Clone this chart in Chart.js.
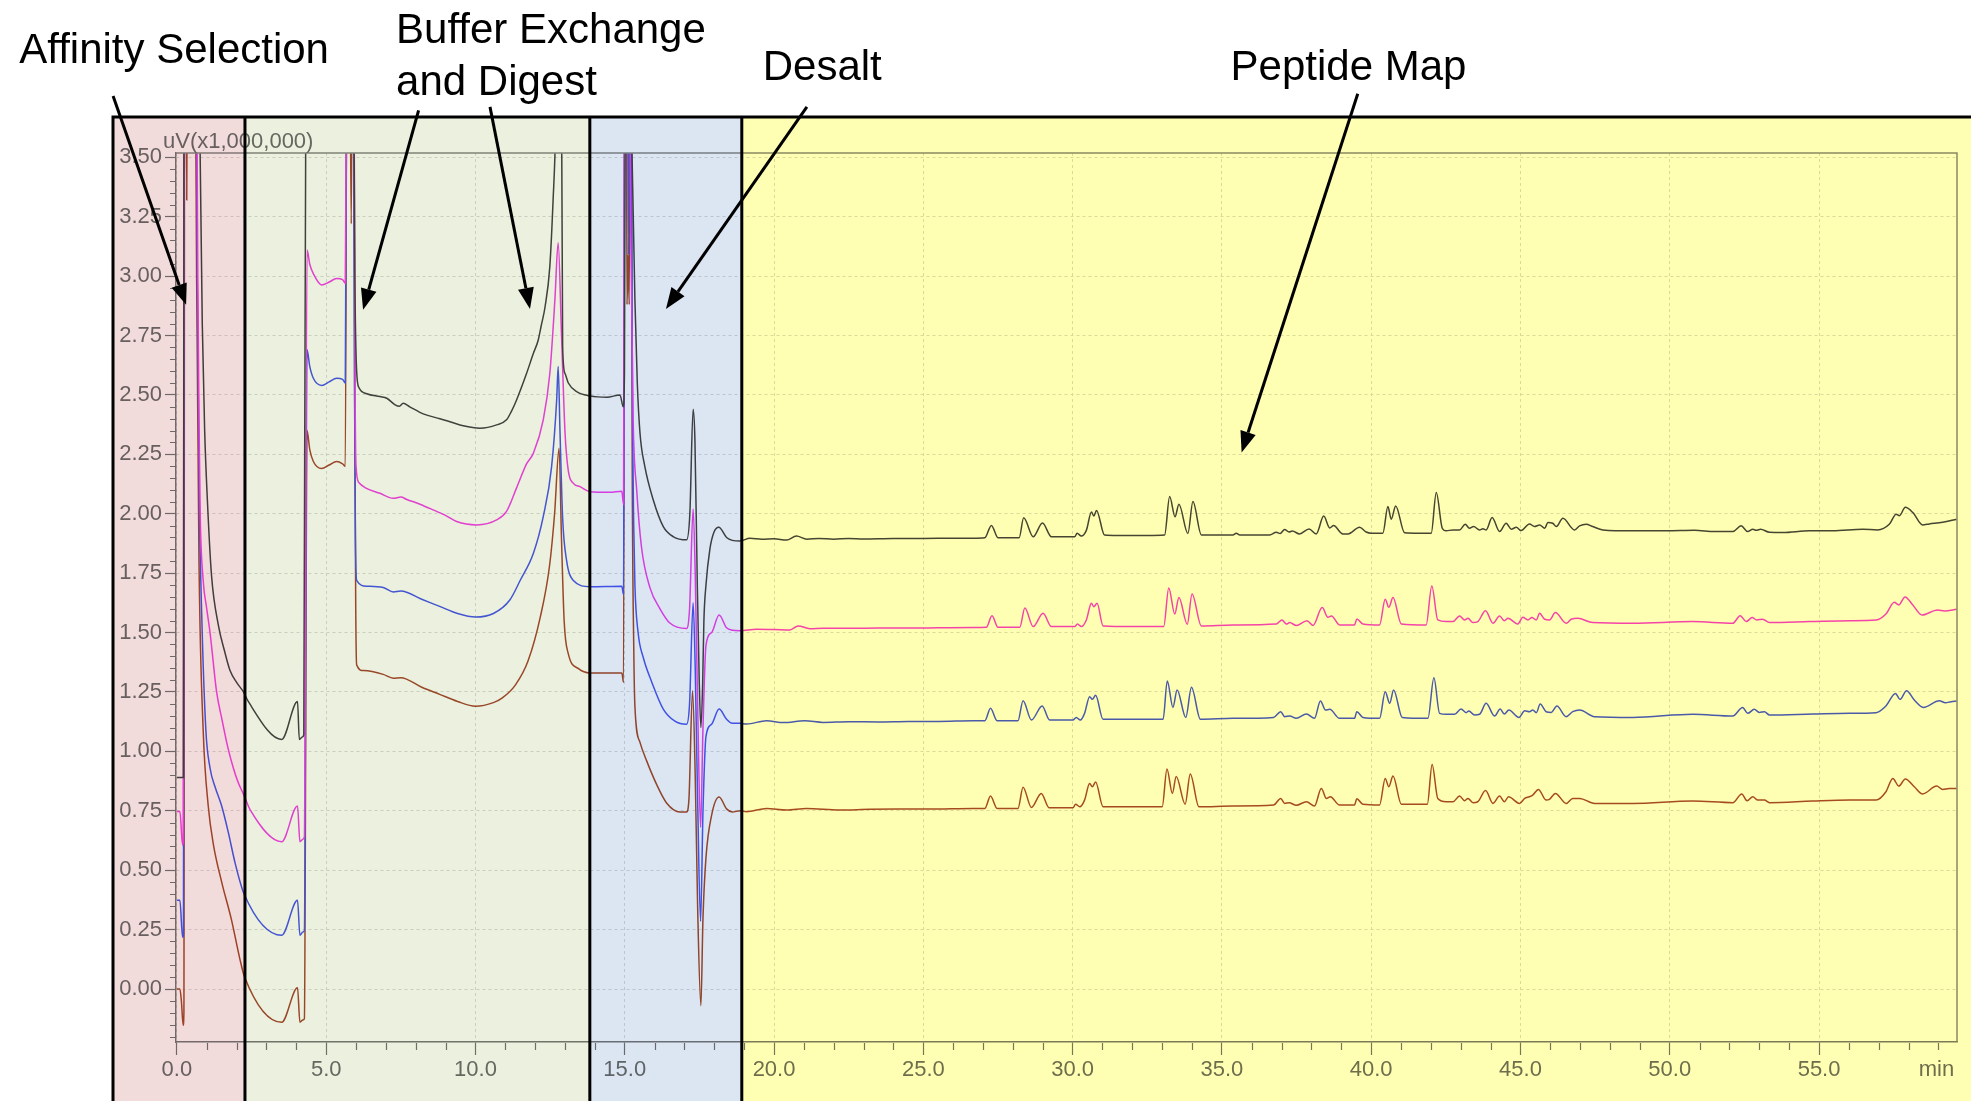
<!DOCTYPE html>
<html><head><meta charset="utf-8">
<script src="https://cdn.jsdelivr.net/npm/chart.js@4.4.1/dist/chart.umd.min.js"></script>
<style>html,body{margin:0;padding:0;background:#fff;}#wrap{width:1971px;height:1101px;position:relative;}</style>
</head><body><div id="wrap"><canvas id="c"></canvas></div>
<script>
// ---- axis ticks ----
const xTicks = [0,5,10,15,20,25,30,35,40,45,50,55];
const yTicks = [0,0.25,0.5,0.75,1,1.25,1.5,1.75,2,2.25,2.5,2.75,3,3.25,3.5];
const xUnitLabel = 'min';
const yUnitLabel = 'uV(x1,000,000)';

// ---- chromatogram traces: [time (min), signal (x1,000,000 uV)] ----
const traceK = [
[0,0.89],[0.19,0.89],[0.22,0.89],[0.24,4.2],[0.5,4.3],[0.74,4.2],[0.78,3.5],[0.85,2.8],[0.93,2.35],[1.02,2.06],[1.16,1.74],[1.39,1.53],[1.6,1.42],[1.78,1.34],[2.0,1.29],[2.23,1.25],[2.39,1.21],[3.51,1.05],[4.04,1.21],[4.1,1.05],[4.2,1.06],[4.25,1.07],[4.33,4.2],[5.2,4.3],[5.9,4.2],[5.96,3.0],[6.02,2.6],[6.1,2.53],[6.36,2.505],[6.8,2.493],[7.03,2.486],[7.31,2.458],[7.45,2.452],[7.58,2.465],[7.8,2.45],[8.25,2.42],[8.81,2.40],[9.2,2.385],[9.59,2.37],[10.15,2.36],[10.71,2.374],[11.04,2.395],[11.2,2.43],[11.38,2.48],[11.71,2.59],[11.94,2.675],[12.10,2.73],[12.2,2.79],[12.33,2.87],[12.49,3.04],[12.6,3.32],[12.68,3.6],[12.76,4.3],[12.86,4.3],[12.92,2.7],[13.0,2.59],[13.11,2.55],[13.39,2.514],[13.83,2.496],[14.4,2.49],[14.84,2.50],[14.95,2.45],[14.99,2.6],[15.03,4.2],[15.15,4.3],[15.23,3.6],[15.34,2.90],[15.42,2.55],[15.51,2.34],[15.67,2.20],[15.95,2.06],[16.29,1.946],[16.62,1.904],[17.07,1.89],[17.18,2.0],[17.29,2.44],[17.35,2.31],[17.43,1.70],[17.49,1.32],[17.55,1.10],[17.61,1.29],[17.65,1.548],[17.72,1.70],[17.85,1.85],[17.98,1.92],[18.15,1.943],[18.41,1.90],[18.6,1.888],
[18.86,1.885],[19.19,1.897],[19.6,1.893],[20.0,1.895],[20.42,1.889],[20.75,1.906],[21.1,1.893],[21.5,1.896],[22,1.893],[22.5,1.896],[23,1.894],[24,1.896],[25,1.896],[26,1.897],[26.67,1.897],[27.06,1.899],[27.28,1.951],[27.50,1.899],[28.21,1.899],[28.36,1.983],[28.68,1.903],[28.99,1.961],[29.29,1.903],[30.07,1.903],[30.15,1.918],[30.29,1.906],[30.46,1.93],[30.63,2.007],[30.71,1.99],[30.80,2.014],[31.07,1.91],[31.5,1.908],[32.5,1.908],[33.08,1.91],[33.25,2.072],[33.43,1.987],[33.56,2.04],[33.86,1.917],[34.03,2.051],[34.31,1.911],[34.5,1.911],[35.37,1.911],[35.48,1.918],[35.6,1.911],[36.6,1.911],[36.82,1.922],[36.95,1.917],[37.10,1.934],[37.25,1.923],[37.36,1.927],[37.60,1.915],[37.92,1.936],[38.16,1.915],[38.41,1.99],[38.61,1.94],[38.74,1.95],[39.05,1.915],[39.22,1.915],[39.61,1.943],[39.83,1.923],[40.0,1.918],[40.39,1.918],[40.56,2.030],[40.67,1.977],[40.82,2.033],[41.12,1.920],[41.62,1.918],[42.01,1.918],[42.18,2.089],[42.38,1.939],[42.51,1.928],[42.74,1.932],[42.96,1.932],[43.15,1.956],[43.29,1.939],[43.43,1.946],[43.63,1.932],[43.74,1.937],[43.85,1.932],[44.05,1.984],[44.30,1.925],[44.52,1.960],[44.69,1.935],[44.86,1.943],[45.02,1.929],[45.30,1.957],[45.47,1.946],[45.64,1.953],[45.81,1.939],[45.92,1.963],[46.08,1.96],[46.20,1.946],[46.42,1.981],[46.81,1.932],[46.98,1.949],[47.20,1.956],[47.42,1.946],[47.76,1.932],[48.76,1.928],[49.88,1.928],[50.83,1.93],[51.5,1.925],[52.11,1.925],[52.39,1.949],[52.61,1.925],[52.78,1.935],[52.9,1.93],[53.04,1.935],[53.34,1.922],[53.78,1.921],[54.68,1.928],[55.46,1.928],[56.46,1.935],[56.96,1.932],[57.36,1.957],[57.58,1.998],[57.69,1.992],[57.89,2.027],[58.14,2.005],[58.47,1.953],[58.69,1.957],[59.14,1.964],[59.61,1.977]
];
const traceM = [
[0,0.747],[0.1,0.747],[0.19,0.606],[0.215,0.62],[0.24,4.2],[0.5,4.3],[0.64,4.2],[0.70,3.0],[0.74,2.4],[0.78,2.0],[0.88,1.72],[1.0,1.6],[1.11,1.50],[1.33,1.25],[1.5,1.14],[1.7,1.02],[1.89,0.93],[2.05,0.87],[2.23,0.82],[2.45,0.755],[3.51,0.62],[4.04,0.77],[4.12,0.62],[4.22,0.63],[4.27,0.64],[4.36,3.11],[4.45,3.05],[4.57,3.01],[4.85,2.963],[5.1,2.975],[5.35,2.99],[5.55,2.985],[5.64,2.97],[5.70,4.2],[5.85,4.3],[5.92,4.2],[5.97,2.5],[6.0,2.2],[6.1,2.13],[6.3,2.11],[6.8,2.086],[7.25,2.065],[7.5,2.07],[7.7,2.06],[8.14,2.04],[8.6,2.015],[9.04,1.99],[9.37,1.967],[10.04,1.953],[10.71,1.974],[11.04,2.01],[11.38,2.11],[11.71,2.21],[11.94,2.255],[12.27,2.395],[12.49,2.59],[12.66,2.90],[12.77,3.14],[12.88,2.76],[13.0,2.34],[13.11,2.18],[13.28,2.128],[13.5,2.114],[13.83,2.093],[14.5,2.09],[14.9,2.095],[14.96,2.04],[15.0,4.2],[15.15,4.3],[15.2,3.2],[15.28,2.40],[15.40,2.10],[15.56,1.86],[15.84,1.69],[16.18,1.60],[16.51,1.54],[17.07,1.517],[17.17,1.6],[17.29,2.02],[17.36,1.75],[17.44,1.2],[17.54,0.68],[17.62,1.1],[17.72,1.446],[17.91,1.50],[18.16,1.574],[18.41,1.52],[18.6,1.51],
[18.86,1.508],[19.41,1.514],[20.0,1.513],[20.53,1.511],[20.81,1.528],[21.2,1.516],[21.64,1.518],[22.5,1.518],[23.5,1.519],[24.5,1.519],[25.5,1.520],[26.67,1.521],[27.11,1.522],[27.30,1.571],[27.50,1.522],[28.23,1.522],[28.40,1.603],[28.68,1.525],[29.01,1.581],[29.29,1.525],[30.07,1.525],[30.16,1.536],[30.29,1.525],[30.46,1.553],[30.63,1.623],[30.71,1.609],[30.82,1.623],[31.02,1.528],[32,1.525],[33.05,1.525],[33.22,1.688],[33.42,1.578],[33.56,1.647],[33.84,1.535],[34.00,1.662],[34.31,1.528],[35.37,1.532],[36.82,1.536],[37.01,1.553],[37.16,1.536],[37.27,1.542],[37.49,1.530],[37.85,1.550],[38.05,1.530],[38.36,1.605],[38.55,1.564],[38.67,1.570],[38.94,1.532],[39.44,1.532],[39.52,1.557],[39.72,1.536],[40.28,1.532],[40.47,1.640],[40.59,1.606],[40.73,1.647],[41.01,1.536],[41.84,1.532],[42.03,1.696],[42.23,1.553],[42.51,1.546],[42.74,1.546],[42.96,1.570],[43.13,1.553],[43.24,1.560],[43.41,1.542],[43.57,1.546],[43.83,1.592],[44.08,1.539],[44.30,1.570],[44.46,1.550],[44.58,1.560],[44.91,1.536],[45.08,1.564],[45.25,1.553],[45.38,1.563],[45.53,1.553],[45.64,1.581],[45.81,1.556],[45.97,1.553],[46.17,1.584],[46.53,1.539],[46.70,1.556],[46.92,1.560],[47.42,1.542],[48.76,1.539],[50.77,1.546],[52.11,1.539],[52.36,1.571],[52.56,1.546],[52.76,1.563],[52.91,1.553],[53.11,1.556],[53.34,1.542],[54.68,1.546],[56.02,1.550],[56.91,1.553],[57.24,1.578],[57.52,1.627],[57.67,1.616],[57.88,1.650],[58.14,1.616],[58.45,1.574],[58.97,1.595],[59.20,1.591],[59.61,1.598]
];
const traceB = [
[0,0.373],[0.1,0.373],[0.19,0.218],[0.22,0.23],[0.25,4.2],[0.5,4.3],[0.62,4.2],[0.68,3.0],[0.75,2.06],[0.83,1.58],[0.97,1.09],[1.11,0.93],[1.28,0.85],[1.5,0.77],[1.72,0.66],[1.95,0.53],[2.25,0.40],[3.51,0.226],[4.04,0.373],[4.12,0.226],[4.22,0.24],[4.27,0.245],[4.36,2.69],[4.45,2.62],[4.57,2.57],[4.85,2.54],[5.1,2.555],[5.35,2.57],[5.55,2.565],[5.64,2.55],[5.70,4.2],[5.85,4.3],[5.90,4.2],[5.95,2.5],[5.98,1.9],[6.02,1.72],[6.36,1.695],[6.91,1.69],[7.25,1.671],[7.5,1.675],[8.2,1.64],[8.8,1.61],[9.4,1.58],[10.0,1.565],[10.6,1.58],[11.15,1.637],[11.5,1.72],[11.94,1.834],[12.27,1.988],[12.55,2.198],[12.72,2.48],[12.77,2.62],[12.83,2.35],[12.92,1.98],[13.05,1.805],[13.27,1.72],[13.83,1.693],[14.9,1.695],[14.96,1.66],[15.0,4.2],[15.09,4.2],[15.12,3.09],[15.15,4.2],[15.2,4.2],[15.26,2.4],[15.30,1.95],[15.34,1.70],[15.45,1.497],[15.62,1.395],[15.90,1.293],[16.29,1.178],[16.68,1.127],[17.07,1.114],[17.17,1.2],[17.29,1.625],[17.36,1.35],[17.44,0.8],[17.54,0.285],[17.62,0.75],[17.72,1.063],[17.91,1.114],[18.16,1.178],[18.41,1.135],[18.6,1.118],
[18.86,1.118],[19.08,1.115],[19.75,1.129],[20.31,1.121],[21.03,1.129],[21.64,1.122],[22.5,1.125],[23.5,1.124],[24.5,1.126],[25.5,1.126],[26.67,1.129],[27.06,1.129],[27.25,1.181],[27.47,1.129],[28.17,1.129],[28.34,1.213],[28.62,1.132],[28.98,1.191],[29.23,1.132],[30.01,1.132],[30.12,1.143],[30.26,1.132],[30.40,1.160],[30.57,1.230],[30.66,1.219],[30.77,1.236],[31.02,1.135],[32,1.135],[33.03,1.135],[33.17,1.296],[33.36,1.185],[33.50,1.258],[33.79,1.143],[33.98,1.270],[34.28,1.135],[35.37,1.139],[36.73,1.143],[36.97,1.167],[37.10,1.146],[37.27,1.149],[37.49,1.139],[37.83,1.157],[38.10,1.139],[38.30,1.212],[38.47,1.174],[38.61,1.177],[38.94,1.139],[39.44,1.139],[39.52,1.167],[39.72,1.143],[40.28,1.139],[40.47,1.251],[40.62,1.202],[40.75,1.258],[41.04,1.143],[41.90,1.139],[42.10,1.310],[42.29,1.160],[42.51,1.156],[42.79,1.156],[43.01,1.178],[43.18,1.163],[43.27,1.170],[43.46,1.153],[43.63,1.156],[43.85,1.202],[44.13,1.149],[44.32,1.178],[44.46,1.157],[44.61,1.174],[44.95,1.143],[45.14,1.171],[45.30,1.167],[45.41,1.174],[45.53,1.163],[45.66,1.199],[45.86,1.167],[46.03,1.164],[46.22,1.191],[46.53,1.146],[46.75,1.167],[46.98,1.174],[47.48,1.146],[48.76,1.143],[50.77,1.156],[52.11,1.149],[52.44,1.185],[52.61,1.160],[52.83,1.177],[53.00,1.164],[53.17,1.167],[53.34,1.153],[54.79,1.157],[56.02,1.160],[56.91,1.163],[57.24,1.191],[57.56,1.244],[57.71,1.219],[57.93,1.255],[58.19,1.216],[58.49,1.185],[59.03,1.213],[59.23,1.205],[59.42,1.209],[59.61,1.212]
];
const traceR = [
[0,0.0],[0.1,0.0],[0.15,-0.05],[0.21,-0.152],[0.235,-0.1],[0.26,4.2],[0.30,4.2],[0.33,3.32],[0.36,4.2],[0.5,4.3],[0.60,4.2],[0.66,3.0],[0.74,1.8],[0.88,1.09],[1.05,0.77],[1.22,0.61],[1.5,0.45],[1.83,0.29],[2.11,0.126],[2.26,0.053],[3.51,-0.14],[4.04,0.005],[4.12,-0.14],[4.22,-0.13],[4.27,-0.125],[4.36,2.35],[4.45,2.27],[4.57,2.22],[4.85,2.19],[5.1,2.205],[5.35,2.22],[5.55,2.21],[5.64,2.20],[5.70,4.2],[5.78,4.2],[5.84,3.22],[5.88,4.2],[5.92,4.0],[5.96,2.3],[5.99,1.6],[6.02,1.364],[6.25,1.34],[6.91,1.324],[7.25,1.308],[7.5,1.31],[8.2,1.27],[8.8,1.24],[9.4,1.21],[10.0,1.19],[10.6,1.205],[10.9,1.225],[11.34,1.28],[11.76,1.38],[12.18,1.57],[12.48,1.78],[12.65,2.0],[12.80,2.276],[12.88,1.9],[12.97,1.55],[13.11,1.41],[13.45,1.348],[13.83,1.33],[14.9,1.33],[14.96,1.29],[15.0,4.2],[15.05,4.2],[15.075,2.88],[15.11,3.09],[15.15,2.88],[15.18,4.2],[15.21,4.2],[15.25,2.2],[15.30,1.45],[15.34,1.19],[15.51,1.038],[15.73,0.961],[16.07,0.86],[16.40,0.783],[16.85,0.745],[17.07,0.745],[17.15,0.80],[17.27,1.255],[17.36,0.9],[17.44,0.35],[17.55,-0.07],[17.62,0.3],[17.72,0.553],[17.91,0.732],[18.16,0.808],[18.41,0.758],[18.6,0.745],
[18.86,0.750],[19.08,0.746],[19.75,0.760],[20.42,0.753],[21.09,0.760],[22.20,0.753],[23.2,0.756],[24.2,0.757],[25.2,0.757],[26.67,0.760],[27.06,0.760],[27.25,0.812],[27.47,0.760],[28.17,0.760],[28.34,0.849],[28.62,0.764],[28.95,0.823],[29.21,0.763],[30.01,0.763],[30.10,0.777],[30.24,0.767],[30.40,0.795],[30.57,0.865],[30.66,0.851],[30.77,0.871],[31.02,0.767],[32,0.767],[33.00,0.767],[33.16,0.926],[33.34,0.823],[33.47,0.894],[33.77,0.778],[33.94,0.905],[34.23,0.767],[35.37,0.770],[36.73,0.774],[36.97,0.802],[37.10,0.781],[37.25,0.784],[37.49,0.773],[37.83,0.788],[38.10,0.770],[38.33,0.844],[38.50,0.802],[38.63,0.809],[38.94,0.774],[39.44,0.774],[39.52,0.801],[39.72,0.777],[40.28,0.774],[40.47,0.886],[40.59,0.851],[40.73,0.896],[41.01,0.777],[41.88,0.777],[42.04,0.945],[42.23,0.802],[42.51,0.788],[42.74,0.788],[42.96,0.812],[43.13,0.792],[43.24,0.802],[43.41,0.784],[43.57,0.788],[43.83,0.835],[44.08,0.781],[44.30,0.812],[44.46,0.788],[44.60,0.809],[44.97,0.781],[45.14,0.802],[45.30,0.809],[45.41,0.816],[45.60,0.840],[45.86,0.795],[45.97,0.798],[46.17,0.823],[46.53,0.781],[46.75,0.802],[46.98,0.802],[47.48,0.781],[48.76,0.781],[50.77,0.791],[52.11,0.784],[52.41,0.821],[52.59,0.792],[52.78,0.809],[52.95,0.795],[53.17,0.795],[53.34,0.784],[54.79,0.791],[56.02,0.795],[56.91,0.795],[57.24,0.830],[57.47,0.886],[57.67,0.854],[57.89,0.884],[58.19,0.851],[58.47,0.821],[58.94,0.854],[59.14,0.840],[59.36,0.844],[59.61,0.844]
];
const seriesNames = ['Run 1','Run 2','Run 3','Run 4'];
const seriesColors = ['#454545','#f544ee','#4a5af0','#a64b2e'];

// ---- workflow stage bands (minutes) ----
const stageNames = ['Affinity Selection','Buffer Exchange and Digest','Desalt','Peptide Map'];
const stageEdges = [-2.14, 2.28, 13.83, 18.92, 61.5];
const stageColors = ['#F2DCDB','#EBF1DE','#DCE6F2','#FFFFB3'];
const stageTop = 3.67;

// ---- callout labels and arrows (data coordinates) ----
const calloutText = [
  {t:'Affinity Selection', x:-5.28, y:3.897},
  {t:'Buffer Exchange', x:7.34, y:3.981},
  {t:'and Digest', x:7.34, y:3.763},
  {t:'Desalt', x:19.62, y:3.826},
  {t:'Peptide Map', x:35.29, y:3.826}
];
const calloutArrows = [
  {x0:-2.137, y0:3.758, x1:0.308, y1:2.879},
  {x0:8.095, y0:3.697, x1:6.236, y1:2.858},
  {x0:10.486, y0:3.712, x1:11.826, y1:2.862},
  {x0:21.10, y0:3.712, x1:16.38, y1:2.862},
  {x0:39.55, y0:3.767, x1:35.66, y1:2.258}
];

const traces = [traceK, traceM, traceB, traceR];
const tickFont = {family:'"Liberation Sans", Arial, sans-serif', size:22};
const tickColor = '#6e6e6e';

const overlay = {
  id:'overlay',
  beforeDraw(chart){
    const c = chart.ctx; c.save(); c.fillStyle = '#fff'; c.fillRect(0,0,chart.width,chart.height); c.restore();
  },
  afterDraw(chart){
    const {ctx, chartArea:a, scales:{x, y}} = chart;
    ctx.save();
    // minor ticks
    ctx.strokeStyle = '#777'; ctx.lineWidth = 1.2; ctx.beginPath();
    for (let i = -4; i <= 70; i++) {
      if (i % 5 === 0) continue;
      const v = i * 0.05; if (v < y.min || v > y.max) continue;
      const py = Math.round(y.getPixelForValue(v)) + 0.5;
      ctx.moveTo(a.left - 6, py); ctx.lineTo(a.left, py);
    }
    for (let m = 1; m < 60; m++) {
      if (m % 5 === 0) continue;
      const px = Math.round(x.getPixelForValue(m)) + 0.5;
      ctx.moveTo(px, a.bottom + 1); ctx.lineTo(px, a.bottom + 8);
    }
    ctx.stroke();
    // frame top/right
    ctx.strokeStyle = '#8a8a8a'; ctx.lineWidth = 1.5; ctx.beginPath();
    ctx.moveTo(a.left, a.top); ctx.lineTo(a.right, a.top); ctx.lineTo(a.right, a.bottom); ctx.stroke();
    // unit labels
    ctx.fillStyle = tickColor; ctx.font = '22px "Liberation Sans", Arial, sans-serif'; ctx.textAlign = 'left'; ctx.textBaseline = 'alphabetic';
    ctx.fillText(yUnitLabel, a.left - 13, a.top - 5);
    ctx.textAlign = 'center'; ctx.textBaseline = 'middle';
    ctx.fillText(xUnitLabel, x.getPixelForValue(58.93), a.bottom + 13 + 2 + 13.2);
    // stage bands (multiply, like translucent slide overlays)
    const topPx = y.getPixelForValue(stageTop);
    ctx.globalCompositeOperation = 'multiply';
    for (let i = 0; i < stageColors.length; i++) {
      const x0 = x.getPixelForValue(stageEdges[i]), x1 = x.getPixelForValue(stageEdges[i+1]);
      ctx.fillStyle = stageColors[i];
      ctx.fillRect(x0, topPx, x1 - x0, chart.height - topPx + 5);
    }
    ctx.globalCompositeOperation = 'source-over';
    ctx.strokeStyle = '#000'; ctx.lineWidth = 3; ctx.beginPath();
    const xs = stageEdges.map(v => x.getPixelForValue(v));
    ctx.moveTo(xs[0] - 1.5, topPx); ctx.lineTo(chart.width + 5, topPx);
    for (let i = 0; i < xs.length; i++) { ctx.moveTo(xs[i], topPx); ctx.lineTo(xs[i], chart.height + 5); }
    ctx.stroke();
    // callouts
    ctx.fillStyle = '#000'; ctx.font = '42px "Liberation Sans", Arial, sans-serif'; ctx.textAlign = 'left'; ctx.textBaseline = 'alphabetic';
    calloutText.forEach(o => ctx.fillText(o.t, x.getPixelForValue(o.x), y.getPixelForValue(o.y)));
    calloutArrows.forEach(o => {
      const X0 = x.getPixelForValue(o.x0), Y0 = y.getPixelForValue(o.y0);
      const X1 = x.getPixelForValue(o.x1), Y1 = y.getPixelForValue(o.y1);
      const ang = Math.atan2(Y1 - Y0, X1 - X0), L = 21, W = 8;
      const bx = X1 - L * Math.cos(ang), by = Y1 - L * Math.sin(ang);
      ctx.strokeStyle = '#000'; ctx.lineWidth = 3; ctx.beginPath(); ctx.moveTo(X0, Y0); ctx.lineTo(bx, by); ctx.stroke();
      ctx.beginPath(); ctx.moveTo(X1, Y1);
      ctx.lineTo(bx + W * Math.sin(ang), by - W * Math.cos(ang));
      ctx.lineTo(bx - W * Math.sin(ang), by + W * Math.cos(ang));
      ctx.closePath(); ctx.fill();
    });
    ctx.restore();
  }
};

new Chart(document.getElementById('c'), {
  type: 'line',
  data: {
    datasets: traces.map((t, i) => ({
      label: seriesNames[i],
      data: t.map(p => ({x: p[0], y: p[1]})),
      borderColor: seriesColors[i],
      borderWidth: 1.5,
      pointRadius: 0,
      fill: false,
      cubicInterpolationMode: 'monotone',
      capBezierPoints: false,
      clip: 0
    }))
  },
  options: {
    responsive: true, maintainAspectRatio: false, animation: false, devicePixelRatio: 1,
    layout: {padding: {left: 0, top: 153, right: 14, bottom: 0}},
    plugins: {legend: {display: false}, tooltip: {enabled: false}},
    events: [],
    scales: {
      x: {
        type: 'linear', min: -0.03, max: 59.62,
        afterBuildTicks: s => { s.ticks = xTicks.map(v => ({value: v})); },
        afterFit: s => { s.height = 59; },
        ticks: {callback: v => Number(v).toFixed(1), font: tickFont, color: tickColor, maxRotation: 0, autoSkip: false, padding: 2},
        grid: {color: '#dadada', lineWidth: 1, tickLength: 13, tickColor: '#777', tickWidth: 1.2},
        border: {display: true, color: '#7a7a7a', width: 1.5, dash: [3, 3]}
      },
      y: {
        type: 'linear', min: -0.223, max: 3.518,
        afterBuildTicks: s => { s.ticks = yTicks.map(v => ({value: v})); },
        afterFit: s => { s.width = 176; },
        ticks: {callback: v => Number(v).toFixed(2), font: tickFont, color: tickColor, autoSkip: false, padding: 3},
        grid: {color: '#dadada', lineWidth: 1, tickLength: 11, tickColor: '#777', tickWidth: 1.2},
        border: {display: true, color: '#7a7a7a', width: 1.5, dash: [3, 3]}
      }
    }
  },
  plugins: [overlay]
});
</script></body></html>
